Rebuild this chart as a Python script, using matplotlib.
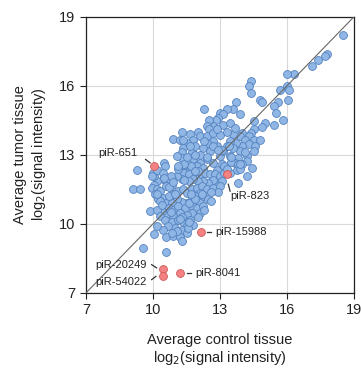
import numpy as np
import matplotlib.pyplot as plt

plt.rcParams['font.family'] = ['Liberation Sans', 'DejaVu Sans']

# average control / tumor log2 signal, one entry per piRNA
control = [18.5, 17.8, 17.7, 17.4, 17.1, 16.3, 16.0, 16.0, 16.1, 16.06, 15.7, 15.6, 15.4, 15.5, 15.8, 15.4,
           14.8, 14.9, 14.4, 14.3, 14.4, 13.7, 13.6, 13.3, 13.9, 13.0, 12.3, 13.15, 12.9, 12.8, 13.15, 12.7,
           12.5, 12.4, 12.5, 12.0, 11.3, 10.9, 11.2, 11.65, 12.1, 11.8, 11.5, 11.36, 11.3, 10.5, 10.55, 9.27,
           9.09, 9.4, 9.87, 9.57, 10.58,
           15.0, 14.9, 14.5, 14.5, 14.4, 14.0, 14.3, 13.9, 13.6, 14.1, 14.5, 14.8, 14.3, 14.57, 14.5, 14.0,
           13.7, 13.45, 13.9, 13.6, 13.3, 14.2, 13.8, 13.45, 13.67, 14.2, 13.97, 14.45, 13.75, 13.45, 13.8,
           13.07, 12.85, 12.7, 13.0, 13.15, 12.85, 12.7, 12.4, 12.25, 12.55, 12.1, 12.4, 12.1, 11.8, 11.96,
           12.25, 11.65, 11.5, 11.36, 11.73, 11.88, 11.65, 11.3, 11.36, 11.06, 11.2, 11.4, 11.6, 12.1, 12.33,
           12.55, 12.78, 13.0, 13.2, 13.07, 12.85, 12.7, 12.48, 12.25, 12.0, 11.8, 11.6, 11.3, 11.06, 10.84,
           10.6, 10.46, 10.16, 10.04, 10.0, 10.04, 9.94, 10.16, 10.1, 10.3, 10.6, 10.84, 10.46, 10.24, 10.6,
           10.9, 11.13, 11.36, 11.5, 11.73, 11.96, 12.18, 12.4, 12.7, 13.0, 12.1, 11.88, 12.25, 12.48, 12.1,
           11.73, 11.5, 11.28, 11.06, 10.84, 10.7, 10.9, 11.13, 11.43, 11.73, 11.96, 12.25, 12.1, 11.73, 11.5,
           11.2, 10.9, 10.6, 10.39, 10.16, 10.3, 10.54, 10.84, 11.13, 11.36, 11.66, 11.8, 11.5, 11.28, 10.98,
           10.69, 10.46, 10.16, 10.04, 10.6, 10.9, 11.2, 11.28, 11.5, 11.06, 10.84, 11.58,
           12.4, 12.7, 13.0, 13.3, 13.45, 13.67, 12.85, 9.94, 10.16, 10.46,
           10.3, 10.7, 11.0, 11.3, 11.6, 11.9, 12.2, 12.0, 11.7, 11.4, 11.1, 10.8, 10.5, 10.2, 10.4, 10.8,
           11.2, 11.6, 12.0, 12.3, 12.6, 12.9, 13.2, 13.5, 13.8, 14.1, 13.9, 13.5, 13.1, 12.7, 12.3, 11.9,
           11.5, 11.1, 10.7, 10.9, 11.4, 11.9, 12.4, 12.9, 13.4, 13.9, 14.2, 13.3, 12.6, 11.7]
tumor = [18.2, 17.36, 17.3, 17.1, 16.85, 16.5, 16.5, 16.0, 15.8, 15.4, 15.8, 15.3, 15.1, 14.8, 14.5, 14.3,
         15.4, 15.3, 16.2, 16.0, 15.7, 15.3, 15.0, 15.0, 14.75, 14.8, 15.0, 14.75, 14.6, 14.5, 14.3, 14.25,
         14.5, 14.25, 14.1, 14.0, 14.0, 13.7, 13.65, 13.9, 13.8, 13.65, 13.5, 13.3, 13.1, 12.65, 12.5, 12.36,
         11.5, 11.5, 10.55, 8.97, 8.8,
         14.4, 14.2, 14.46, 14.1, 13.95, 13.95, 13.8, 13.8, 13.9, 13.65, 13.65, 13.65, 13.45, 13.38, 13.16,
         13.38, 13.5, 13.6, 13.16, 13.3, 13.38, 12.94, 12.87, 12.94, 12.65, 12.72, 12.58, 12.43, 12.36, 12.2,
         11.78, 12.58, 12.36, 12.65, 12.94, 13.16, 13.38, 13.6, 13.5, 13.3, 13.16, 13.0, 12.8, 12.65, 12.8,
         12.5, 12.43, 12.36, 12.65, 12.5, 13.1, 13.38, 13.38, 12.87, 13.65, 12.94, 12.3, 12.2, 12.15, 12.07,
         12.2, 12.15, 12.15, 12.07, 12.2, 11.86, 11.7, 11.9, 11.78, 11.86, 11.86, 11.93, 11.86, 11.93, 12.07,
         11.93, 11.86, 11.93, 11.86, 12.07, 12.2, 11.7, 11.56, 11.5, 11.28, 11.42, 11.64, 11.7, 11.13, 11.06,
         10.9, 11.28, 11.42, 11.5, 11.35, 11.5, 11.56, 11.64, 11.5, 11.56, 11.64, 11.35, 11.2, 11.2, 11.06,
         10.9, 11.06, 10.9, 10.97, 11.06, 10.9, 10.7, 10.6, 10.77, 10.7, 10.77, 10.7, 10.77, 10.48, 10.48,
         10.4, 10.48, 10.33, 10.4, 10.55, 10.62, 10.33, 10.19, 10.1, 10.19, 10.1, 10.19, 9.97, 9.9, 9.75,
         9.83, 9.9, 9.75, 9.9, 9.54, 9.43, 9.46, 9.43, 9.25, 9.6, 9.68, 9.6, 9.83,
         13.8, 13.96, 13.88, 14.0, 14.4, 14.17, 14.1, 12.07, 12.36, 12.2,
         11.0, 11.2, 11.3, 10.3, 10.9, 11.1, 11.3, 12.3, 12.5, 12.6, 12.4, 12.1, 12.0, 11.3, 10.8, 10.5,
         10.2, 10.1, 10.3, 10.6, 11.0, 11.4, 12.5, 12.7, 12.6, 13.1, 12.4, 12.9, 13.2, 13.4, 13.6, 13.0,
         12.9, 12.5, 11.6, 11.8, 11.9, 12.3, 12.9, 13.2, 13.4, 12.6, 12.1, 12.4, 11.4, 11.3]

# highlighted piRNAs
red_names = ['piR-651', 'piR-823', 'piR-15988', 'piR-8041', 'piR-20249', 'piR-54022']
red_control = [10.06, 13.3, 12.13, 11.22, 10.43, 10.43]
red_tumor = [12.5, 12.15, 9.64, 7.87, 8.04, 7.75]

ticks = [7, 10, 13, 16, 19]

fig = plt.figure(figsize=(3.61, 3.69), dpi=100)
ax = fig.add_axes([0.238, 0.206, 0.743, 0.749])

ax.plot([7, 19], [7, 19], color='#666666', lw=0.8, zorder=3)
ax.scatter(control, tumor, s=32, c='#8fb6e4', edgecolors='#5382c0', linewidths=0.6, zorder=2)
ax.scatter(red_control, red_tumor, s=32, c='#f38282', edgecolors='#d05858', linewidths=0.6, zorder=4)

# labels for the highlighted points: (text x, text y, ha, leader start, leader end)
lab = {
    'piR-651': (9.3, 13.06, 'right', (9.67, 12.8), (9.87, 12.65)),
    'piR-823': (13.45, 11.2, 'left', (13.37, 11.72), (13.45, 11.42)),
    'piR-15988': (12.78, 9.65, 'left', (12.42, 9.65), (12.6, 9.65)),
    'piR-8041': (11.88, 7.87, 'left', (11.52, 7.87), (11.7, 7.87)),
    'piR-20249': (9.72, 8.23, 'right', (9.94, 8.23), (10.16, 8.09)),
    'piR-54022': (9.72, 7.46, 'right', (9.94, 7.58), (10.13, 7.72)),
}
for name in red_names:
    tx, ty, ha, p0, p1 = lab[name]
    ax.text(tx, ty, name, ha=ha, va='center', fontsize=8, color='#222222')
    ax.plot([p0[0], p1[0]], [p0[1], p1[1]], color='#333333', lw=0.9)

ax.set_xlim(7, 19)
ax.set_ylim(7, 19)
ax.set_xticks(ticks)
ax.set_yticks(ticks)
ax.tick_params(direction='out', length=4, width=0.8, labelsize=10.5, colors='#222222')
ax.grid(True, color='#d9d9d9', lw=0.8)
ax.set_axisbelow(True)
for s in ax.spines.values():
    s.set_color('#222222')
    s.set_linewidth(0.9)

ax.set_xlabel('Average control tissue\nlog$_2$(signal intensity)', fontsize=10.5, labelpad=11, color='#222222')
ax.set_ylabel('Average tumor tissue\nlog$_2$(signal intensity)', fontsize=10.5, labelpad=8, color='#222222')

fig.savefig('out.png', dpi=100)
